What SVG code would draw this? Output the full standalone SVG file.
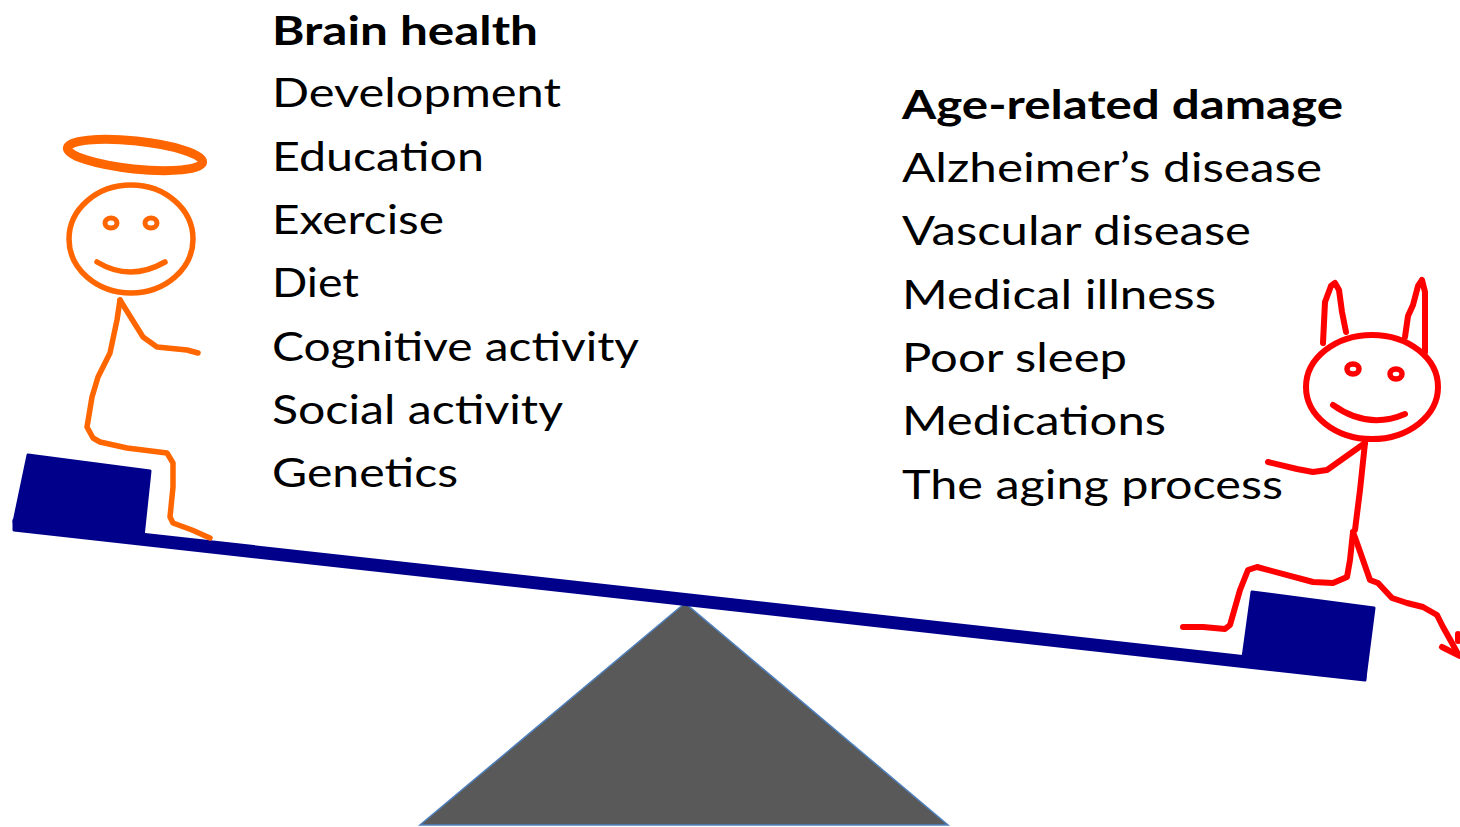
<svg xmlns="http://www.w3.org/2000/svg" width="1460" height="827" viewBox="0 0 1460 827">
  <style>
    .txt { font-family: Lato, "Open Sans", "Liberation Sans", sans-serif; font-size: 40px; fill: #000; }
    .head { font-weight: bold; }
    .angel { fill: none; stroke: #ff6600; stroke-width: 5.5; stroke-linecap: round; stroke-linejoin: round; }
    .devil { fill: none; stroke: #ff0000; stroke-width: 6; stroke-linecap: round; stroke-linejoin: round; }
    .navy { fill: #00008b; stroke: #00008b; stroke-width: 3; stroke-linejoin: round; }
  </style>
  <rect width="1460" height="827" fill="#ffffff"/>

  <!-- fulcrum -->
  <g id="fulcrum">
    <polygon points="685,603 420,825 948,825" fill="#595959" stroke="#4f81bd" stroke-width="1.5"/>
  </g>

  <!-- seesaw plank and seats -->
  <g id="seesaw">
    <polygon class="navy" points="14,520 1365,670 1365,680 14,530"/>
    <polygon class="navy" points="28,455 150,471 143,537 14,522"/>
    <polygon class="navy" points="1252,592 1374,608 1365,678 1242,665"/>
  </g>

  <!-- angel on the left seat -->
  <g id="angel">
    <ellipse class="angel" style="stroke-width:9" cx="135" cy="155" rx="68" ry="14" transform="rotate(6 135 155)"/>
    <ellipse class="angel" cx="131" cy="239" rx="62" ry="54"/>
    <ellipse class="angel" style="stroke-width:5" cx="111" cy="223" rx="6" ry="5"/>
    <ellipse class="angel" style="stroke-width:5" cx="151" cy="223" rx="6" ry="5"/>
    <path class="angel" d="M97,262 Q130,282 165,262"/>
    <path class="angel" d="M120,300 L143,337 L157,347 L187,350 L198,353"/>
    <path class="angel" d="M120,300 L117,320 L110,353 L98,377 L92,397 L87,427 L93,438 L100,442 L127,448 L167,453 L173,463 L173,487 L170,517 L173,523 L192,530 L210,538"/>
  </g>

  <!-- devil on the right seat -->
  <g id="devil">
    <path class="devil" d="M1323,343 L1325,302 L1331,286 L1335,283 L1339,290 L1342,312 L1346,332"/>
    <path class="devil" d="M1405,337 L1408,316 L1413,305 L1418,286 L1422,280 L1425,292 L1425,352"/>
    <ellipse class="devil" cx="1372" cy="387" rx="66" ry="52"/>
    <ellipse class="devil" style="stroke-width:5.5" cx="1353" cy="369" rx="6" ry="5"/>
    <ellipse class="devil" style="stroke-width:5.5" cx="1396" cy="374" rx="6" ry="5"/>
    <path class="devil" d="M1333,405 Q1368,430 1405,414"/>
    <path class="devil" d="M1365,443 L1327,470 L1313,472 L1297,469 L1268,462"/>
    <path class="devil" d="M1365,443 L1360,490 L1355,530"/>
    <path class="devil" d="M1353,532 L1350,560 L1347,577 L1333,583 L1313,582 L1257,567 L1248,570 L1240,590 L1230,625 L1225,629 L1203,627 L1183,627"/>
    <path class="devil" d="M1353,532 L1357,543 L1370,580 L1378,583 L1392,598 L1407,603 L1423,607 L1437,615 L1443,627 L1452,643 L1458,654"/>
    <path class="devil" d="M1442,647 L1460,656"/>
    <path class="devil" d="M1458,634 L1458,641"/>
  </g>

  <!-- protective factors -->
  <g id="brain-health">
    <text class="txt head" x="272" y="45" textLength="266" lengthAdjust="spacingAndGlyphs">Brain health</text>
    <text class="txt" x="272" y="107" textLength="289" lengthAdjust="spacingAndGlyphs">Development</text>
    <text class="txt" x="272" y="171" textLength="212" lengthAdjust="spacingAndGlyphs">Education</text>
    <text class="txt" x="272" y="234" textLength="172" lengthAdjust="spacingAndGlyphs">Exercise</text>
    <text class="txt" x="272" y="297" textLength="87" lengthAdjust="spacingAndGlyphs">Diet</text>
    <text class="txt" x="272" y="361" textLength="367" lengthAdjust="spacingAndGlyphs">Cognitive activity</text>
    <text class="txt" x="272" y="424" textLength="291" lengthAdjust="spacingAndGlyphs">Social activity</text>
    <text class="txt" x="272" y="487" textLength="186" lengthAdjust="spacingAndGlyphs">Genetics</text>
  </g>

  <!-- harmful factors -->
  <g id="age-damage">
    <text class="txt head" x="902" y="119" textLength="441" lengthAdjust="spacingAndGlyphs">Age-related damage</text>
    <text class="txt" x="902" y="182" textLength="420" lengthAdjust="spacingAndGlyphs">Alzheimer’s disease</text>
    <text class="txt" x="902" y="245" textLength="349" lengthAdjust="spacingAndGlyphs">Vascular disease</text>
    <text class="txt" x="902" y="309" textLength="314" lengthAdjust="spacingAndGlyphs">Medical illness</text>
    <text class="txt" x="902" y="372" textLength="225" lengthAdjust="spacingAndGlyphs">Poor sleep</text>
    <text class="txt" x="902" y="435" textLength="264" lengthAdjust="spacingAndGlyphs">Medications</text>
    <text class="txt" x="902" y="499" textLength="381" lengthAdjust="spacingAndGlyphs">The aging process</text>
  </g>
</svg>
